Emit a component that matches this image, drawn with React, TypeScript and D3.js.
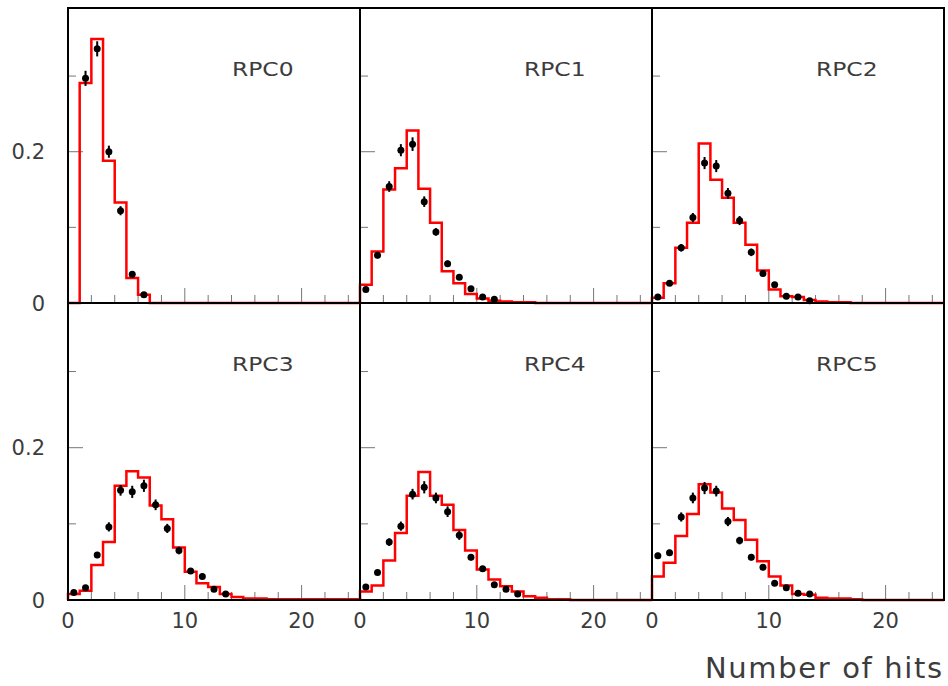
import React from "react";
import * as d3 from "d3";

// ---- Data ----
const panelNames = ["RPC0", "RPC1", "RPC2", "RPC3", "RPC4", "RPC5"];

// Simulation histograms (red), bins [0,1), [1,2) ... [24,25)
const mcRPC0 = [0, 0.291, 0.349, 0.188, 0.133, 0.033, 0.011, 0, 0, 0, 0, 0, 0, 0, 0, 0, 0, 0, 0, 0, 0, 0, 0, 0, 0];
const mcRPC1 = [0.024, 0.068, 0.150, 0.178, 0.228, 0.151, 0.106, 0.042, 0.026, 0.012, 0.006, 0.003, 0.002, 0.001, 0.001, 0, 0, 0, 0, 0, 0, 0, 0, 0, 0];
const mcRPC2 = [0.007, 0.026, 0.073, 0.106, 0.211, 0.163, 0.139, 0.106, 0.077, 0.043, 0.018, 0.009, 0.008, 0.004, 0.002, 0.001, 0.001, 0, 0, 0, 0, 0, 0, 0, 0];
const mcRPC3 = [0.008, 0.012, 0.046, 0.076, 0.150, 0.169, 0.161, 0.124, 0.106, 0.069, 0.037, 0.022, 0.017, 0.008, 0.004, 0.002, 0.002, 0.001, 0.001, 0.001, 0.001, 0.001, 0.001, 0.001, 0.001];
const mcRPC4 = [0.011, 0.019, 0.052, 0.088, 0.137, 0.168, 0.137, 0.125, 0.092, 0.065, 0.040, 0.027, 0.018, 0.011, 0.005, 0.003, 0.001, 0.001, 0, 0, 0, 0, 0, 0, 0];
const mcRPC5 = [0.031, 0.049, 0.084, 0.113, 0.152, 0.141, 0.120, 0.105, 0.079, 0.051, 0.031, 0.019, 0.008, 0.007, 0.003, 0.002, 0.002, 0.001, 0, 0, 0, 0, 0, 0, 0];

// Measured data points (black), at bin centres 0.5, 1.5, ...
const dataRPC0 = [null, 0.297, 0.336, 0.200, 0.122, 0.038, 0.011];
const dataRPC1 = [0.018, 0.063, 0.154, 0.202, 0.210, 0.134, 0.094, 0.052, 0.034, 0.019, 0.008, 0.005];
const dataRPC2 = [0.008, 0.026, 0.073, 0.113, 0.185, 0.181, 0.145, 0.109, 0.067, 0.039, 0.024, 0.009, 0.008, 0.003];
const dataRPC3 = [0.010, 0.016, 0.059, 0.096, 0.144, 0.142, 0.150, 0.125, 0.094, 0.065, 0.038, 0.031, 0.014, 0.008];
const dataRPC4 = [0.017, 0.036, 0.076, 0.097, 0.139, 0.148, 0.134, 0.116, 0.085, 0.056, 0.041, 0.020, 0.014, 0.008];
const dataRPC5 = [0.058, 0.062, 0.109, 0.134, 0.147, 0.143, 0.103, 0.078, 0.056, 0.043, 0.022, 0.016, 0.009, 0.008];

// Error bar half-lengths
const errRPC0 = [0, 0.010, 0.010, 0.008, 0.006, 0.004, 0.002];
const errRPC1 = [0.003, 0.004, 0.007, 0.008, 0.009, 0.007, 0.005, 0.004, 0.003, 0.003, 0.002, 0.002];
const errRPC2 = [0.002, 0.003, 0.005, 0.006, 0.008, 0.008, 0.007, 0.006, 0.005, 0.004, 0.003, 0.002, 0.002, 0.001];
const errRPC3 = [0.002, 0.003, 0.004, 0.006, 0.007, 0.008, 0.008, 0.007, 0.006, 0.005, 0.003, 0.003, 0.002, 0.002];
const errRPC4 = [0.003, 0.003, 0.005, 0.006, 0.007, 0.008, 0.007, 0.007, 0.006, 0.004, 0.003, 0.002, 0.002, 0.002];
const errRPC5 = [0.004, 0.004, 0.006, 0.007, 0.008, 0.007, 0.006, 0.005, 0.004, 0.004, 0.003, 0.002, 0.002, 0.002];

const xDomain = [0, 25];
const yDomain = [0, 0.39];
const xTickValues = [2, 4, 6, 8, 10, 12, 14, 16, 18, 20, 22, 24];
const xMajorTicks = [10, 20];
const xTickLabels = [0, 10, 20];
const yTickValues = [0.1, 0.2, 0.3];
const yMajorTicks = [0.2];
const yTickLabels = [0, 0.2];
const xTitle = "Number of hits";

const mcSeries = [mcRPC0, mcRPC1, mcRPC2, mcRPC3, mcRPC4, mcRPC5];
const dataSeries = [dataRPC0, dataRPC1, dataRPC2, dataRPC3, dataRPC4, dataRPC5];
const errSeries = [errRPC0, errRPC1, errRPC2, errRPC3, errRPC4, errRPC5];

// ---- Layout ----
const W = 948;
const H = 686;
const colX = [68, 360, 652];
const panelW = 292;
const rowY = [8, 303];
const panelH = [295, 297];
const FONT = "'DejaVu Sans', sans-serif";
const TEXT = "#3c3c3c";
const TICK = "#777";

function Panel({ idx }: { idx: number }) {
  const col = idx % 3;
  const row = Math.floor(idx / 3);
  const x0 = colX[col];
  const y0 = rowY[row];
  const h = panelH[row];
  const x = d3.scaleLinear().domain(xDomain).range([x0, x0 + panelW]);
  const y = d3.scaleLinear().domain(yDomain).range([y0 + h, y0]);

  const mc = mcSeries[idx];
  const pts: [number, number][] = [[0, 0]];
  mc.forEach((v, i) => {
    pts.push([i, v]);
    pts.push([i + 1, v]);
  });
  pts.push([mc.length, 0]);
  const line = d3
    .line<[number, number]>()
    .x((d) => x(d[0]))
    .y((d) => y(d[1]));

  const data = dataSeries[idx];
  const err = errSeries[idx];

  return (
    <g>
      {xTickValues.map((t) => (
        <line
          key={"xt" + t}
          x1={x(t)}
          x2={x(t)}
          y1={y(0)}
          y2={y(0) - (xMajorTicks.includes(t) ? 15 : 8)}
          stroke={TICK}
          strokeWidth={1}
        />
      ))}
      {yTickValues.map((t) => (
        <line
          key={"yt" + t}
          x1={x(0)}
          x2={x(0) + (yMajorTicks.includes(t) ? 15 : 8)}
          y1={y(t)}
          y2={y(t)}
          stroke={TICK}
          strokeWidth={1}
        />
      ))}
      <path d={line(pts) || ""} fill="none" stroke="#ff0000" strokeWidth={2.5} strokeLinejoin="miter" />
      {data.map((v, i) =>
        v == null ? null : (
          <g key={"p" + i}>
            <line
              x1={x(i + 0.5)}
              x2={x(i + 0.5)}
              y1={y(v - err[i])}
              y2={y(v + err[i])}
              stroke="#000"
              strokeWidth={2}
            />
            <circle cx={x(i + 0.5)} cy={y(v)} r={3.5} fill="#000" />
          </g>
        )
      )}
      <rect x={x0} y={y0} width={panelW} height={h} fill="none" stroke="#000" strokeWidth={2} />
      <text
        x={x0 + 164}
        y={y0 + 68}
        fontFamily={FONT}
        fontSize={20}
        fill={TEXT}
        transform={`translate(${x0 + 164},0) scale(1.17,1) translate(${-(x0 + 164)},0)`}
      >
        {panelNames[idx]}
      </text>
      {col === 0 &&
        yTickLabels.map((t) => (
          <text
            key={"yl" + t}
            x={45}
            y={y(t)}
            dy="0.36em"
            textAnchor="end"
            fontFamily={FONT}
            fontSize={21}
            fill={TEXT}
          >
            {t === 0 ? "0" : String(t)}
          </text>
        ))}
      {row === 1 &&
        xTickLabels.map((t) => (
          <text
            key={"xl" + t}
            x={x(t)}
            y={628}
            textAnchor="middle"
            fontFamily={FONT}
            fontSize={21}
            fill={TEXT}
          >
            {String(t)}
          </text>
        ))}
    </g>
  );
}

export default function App() {
  return (
    <svg
      width={W}
      height={H}
      viewBox={`0 0 ${W} ${H}`}
      style={{ position: "absolute", left: 0, top: 0, background: "#fff" }}
    >
      <rect x={0} y={0} width={W} height={H} fill="#fff" />
      {panelNames.map((_, i) => (
        <Panel key={i} idx={i} />
      ))}
      <text
        x={705}
        y={678}
        fontFamily={FONT}
        fontSize={29}
        fill={TEXT}
        textLength={237}
        lengthAdjust="spacing"
      >
        {xTitle}
      </text>
    </svg>
  );
}
